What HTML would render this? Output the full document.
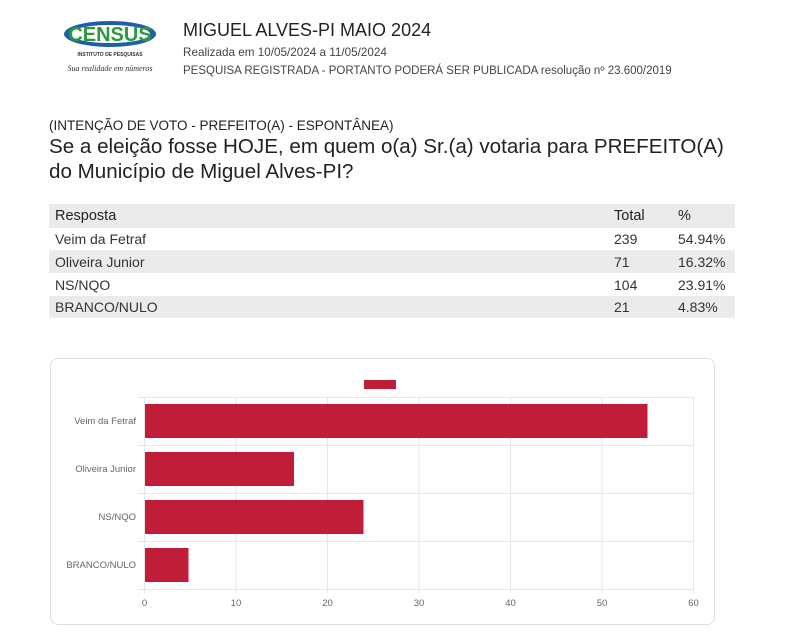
<!DOCTYPE html>
<html><head><meta charset="utf-8"><style>
body{margin:0;width:787px;height:640px;background:#fff;position:relative;overflow:hidden;font-family:"Liberation Sans",sans-serif;color:#222}
.a{position:absolute;white-space:nowrap}
.row{position:absolute;left:49px;width:686px;font-size:14px;color:#333}
.row span{position:absolute;top:4px}
</style></head><body>
<svg class="a" style="left:62px;top:18px" width="104" height="62">
<ellipse cx="48" cy="16" rx="46" ry="13" fill="#1e5fa8"/>
<ellipse cx="48" cy="16" rx="40" ry="9" fill="#fff"/>
<text x="48" y="23" font-family="Liberation Sans" font-weight="bold" font-size="20" fill="#2a9a3a" text-anchor="middle">CENSUS</text>
<text x="48" y="38" font-family="Liberation Sans" font-weight="bold" font-size="5" fill="#333" text-anchor="middle">INSTITUTO DE PESQUISAS</text>
<text x="48" y="53" font-family="Liberation Serif" font-style="italic" font-size="8" fill="#333" text-anchor="middle">Sua realidade em números</text>
</svg>
<div class="a" style="left:183px;top:20px;font-size:18px;color:#222">MIGUEL ALVES-PI MAIO 2024</div>
<div class="a" style="left:183px;top:46px;font-size:11.7px;color:#444">Realizada em 10/05/2024 a 11/05/2024</div>
<div class="a" style="left:183px;top:65px;font-size:11.5px;color:#444">PESQUISA REGISTRADA - PORTANTO PODERÁ SER PUBLICADA resolução nº 23.600/2019</div>
<div class="a" style="left:49px;top:118px;font-size:13.5px;color:#222">(INTENÇÃO DE VOTO - PREFEITO(A) - ESPONTÂNEA)</div>
<div class="a" style="left:49px;top:134px;font-size:20.6px;line-height:25px;color:#222">Se a eleição fosse HOJE, em quem o(a) Sr.(a) votaria para PREFEITO(A)<br>do Município de Miguel Alves-PI?</div>
<div class="row" style="top:204px;height:24px;background:#ebebeb;font-size:14.5px;color:#222"><span style="left:6px">Resposta</span><span style="left:565px">Total</span><span style="left:629px">%</span></div>
<div class="row" style="top:228px;height:22px"><span style="left:6px;top:3px">Veim da Fetraf</span><span style="left:565px;top:3px">239</span><span style="left:629px;top:3px">54.94%</span></div>
<div class="row" style="top:250px;height:23px;background:#ebebeb"><span style="left:6px">Oliveira Junior</span><span style="left:565px">71</span><span style="left:629px">16.32%</span></div>
<div class="row" style="top:273px;height:23px"><span style="left:6px">NS/NQO</span><span style="left:565px">104</span><span style="left:629px">23.91%</span></div>
<div class="row" style="top:296px;height:22px;background:#ebebeb"><span style="left:6px;top:3px">BRANCO/NULO</span><span style="left:565px;top:3px">21</span><span style="left:629px;top:3px">4.83%</span></div>
<div class="a" style="left:50px;top:358px;width:663px;height:265px;border:1px solid #ddd;border-radius:8px"></div>
<svg class="a" style="left:0;top:0" width="787" height="640" font-family="Liberation Sans" font-size="9.5" fill="#666">
<rect x="364" y="380" width="32" height="9" fill="#c01e38"/>
<g stroke="#e6e6e6" stroke-width="1">
<line x1="144.5" y1="397" x2="144.5" y2="593"/><line x1="236" y1="397" x2="236" y2="593"/><line x1="327.5" y1="397" x2="327.5" y2="593"/><line x1="419" y1="397" x2="419" y2="593"/><line x1="510.5" y1="397" x2="510.5" y2="593"/><line x1="602" y1="397" x2="602" y2="593"/><line x1="693.5" y1="397" x2="693.5" y2="593"/>
<line x1="138" y1="397.5" x2="694" y2="397.5"/><line x1="138" y1="445.5" x2="694" y2="445.5"/><line x1="138" y1="493.5" x2="694" y2="493.5"/><line x1="138" y1="541.5" x2="694" y2="541.5"/><line x1="138" y1="589.5" x2="694" y2="589.5"/>
</g>
<g fill="#c01e38">
<rect x="145" y="404" width="502.5" height="34"/>
<rect x="145" y="452" width="149" height="34"/>
<rect x="145" y="500" width="218.5" height="34"/>
<rect x="145" y="548" width="43.5" height="34"/>
</g>
<g text-anchor="end"><text x="136" y="424">Veim da Fetraf</text><text x="136" y="472">Oliveira Junior</text><text x="136" y="520">NS/NQO</text><text x="136" y="568">BRANCO/NULO</text></g>
<g text-anchor="middle"><text x="144.5" y="606">0</text><text x="236" y="606">10</text><text x="327.5" y="606">20</text><text x="419" y="606">30</text><text x="510.5" y="606">40</text><text x="602" y="606">50</text><text x="693.5" y="606">60</text></g>
</svg>
</body></html>
